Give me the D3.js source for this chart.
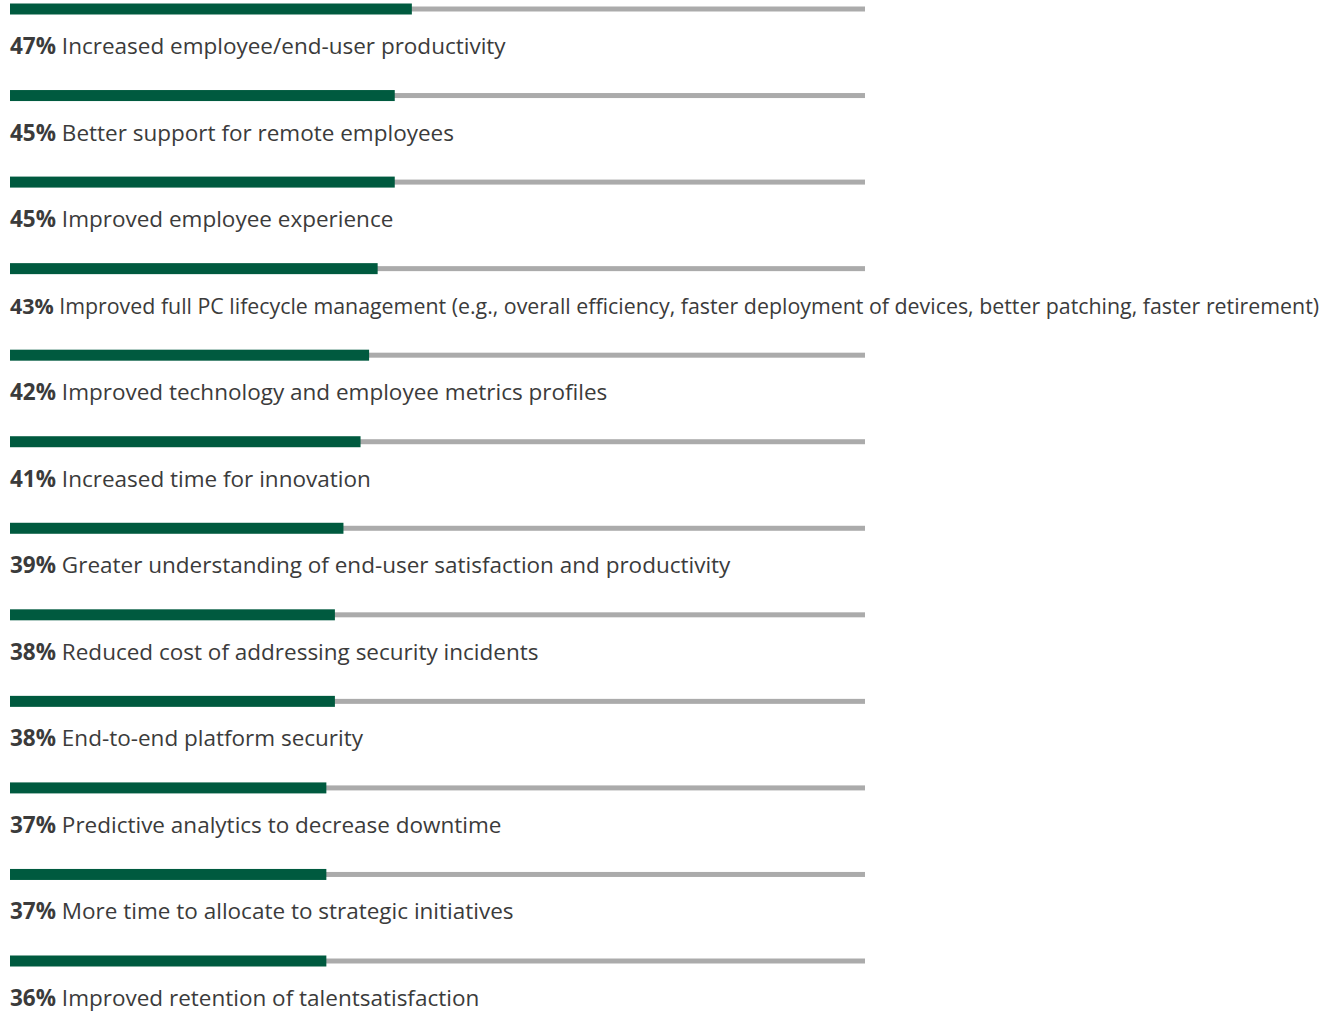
<!DOCTYPE html>
<html lang="en">
<head>
<meta charset="utf-8">
<title>Benefits bar chart</title>
<script src="https://cdn.jsdelivr.net/npm/d3@7"></script>
<style>
  body { margin: 0; background: #fff; }
  text { font-family: "Open Sans", sans-serif; }
</style>
</head>
<body>
<div id="chart"></div>
<script>
// categories, top to bottom
let categories = [
  "Increased employee/end-user productivity",
  "Better support for remote employees",
  "Improved employee experience",
  "Improved full PC lifecycle management (e.g., overall efficiency, faster deployment of devices, better patching, faster retirement)",
  "Improved technology and employee metrics profiles",
  "Increased time for innovation",
  "Greater understanding of end-user satisfaction and productivity",
  "Reduced cost of addressing security incidents",
  "End-to-end platform security",
  "Predictive analytics to decrease downtime",
  "More time to allocate to strategic initiatives",
  "Improved retention of talentsatisfaction"
]
// printed percentages
let pctLabels = ["47%", "45%", "45%", "43%", "42%", "41%", "39%", "38%", "38%", "37%", "37%", "36%"]
// bar lengths as drawn (last bar is drawn the same length as the 37% ones)
let values = [47, 45, 45, 43, 42, 41, 39, 38, 38, 37, 37, 37]

let w = 1343
let h = 1012
let fontSize = 22.5
let maxLabel = 1310

let xScale = d3.scaleLinear().domain([0, 100]).range([10, 865])
let yScale = d3.scalePoint().domain(d3.range(categories.length)).range([9, 961])

let svg = d3.select("#chart").append("svg")
  .attr("width", w)
  .attr("height", h)

let rows = svg.selectAll("g.row")
  .data(categories)
  .enter().append("g")
  .attr("class", "row")
  .attr("transform", function(d, i) { return "translate(0," + yScale(i) + ")" })

// gray track
rows.append("rect")
  .attr("x", xScale(0))
  .attr("y", -2.5)
  .attr("width", xScale(100) - xScale(0))
  .attr("height", 5)
  .attr("fill", "#ababab")

// green value bar
rows.append("rect")
  .attr("x", xScale(0))
  .attr("y", -5.5)
  .attr("width", function(d, i) { return xScale(values[i]) - xScale(0) })
  .attr("height", 11)
  .attr("fill", "#005a3f")

let label = rows.append("text")
  .attr("x", xScale(0))
  .attr("y", 45)
  .attr("font-size", fontSize + "px")
  .attr("fill", "#3b3b3b")

label.append("tspan")
  .attr("font-weight", "bold")
  .text(function(d, i) { return pctLabels[i] })

label.append("tspan")
  .text(function(d) { return " " + d })

// shrink the long one so it fits the page
label.each(function() {
  let len = this.getComputedTextLength()
  if (len > maxLabel) {
    d3.select(this).attr("font-size", (fontSize * maxLabel / len).toFixed(2) + "px")
  }
})
</script>
</body>
</html>
